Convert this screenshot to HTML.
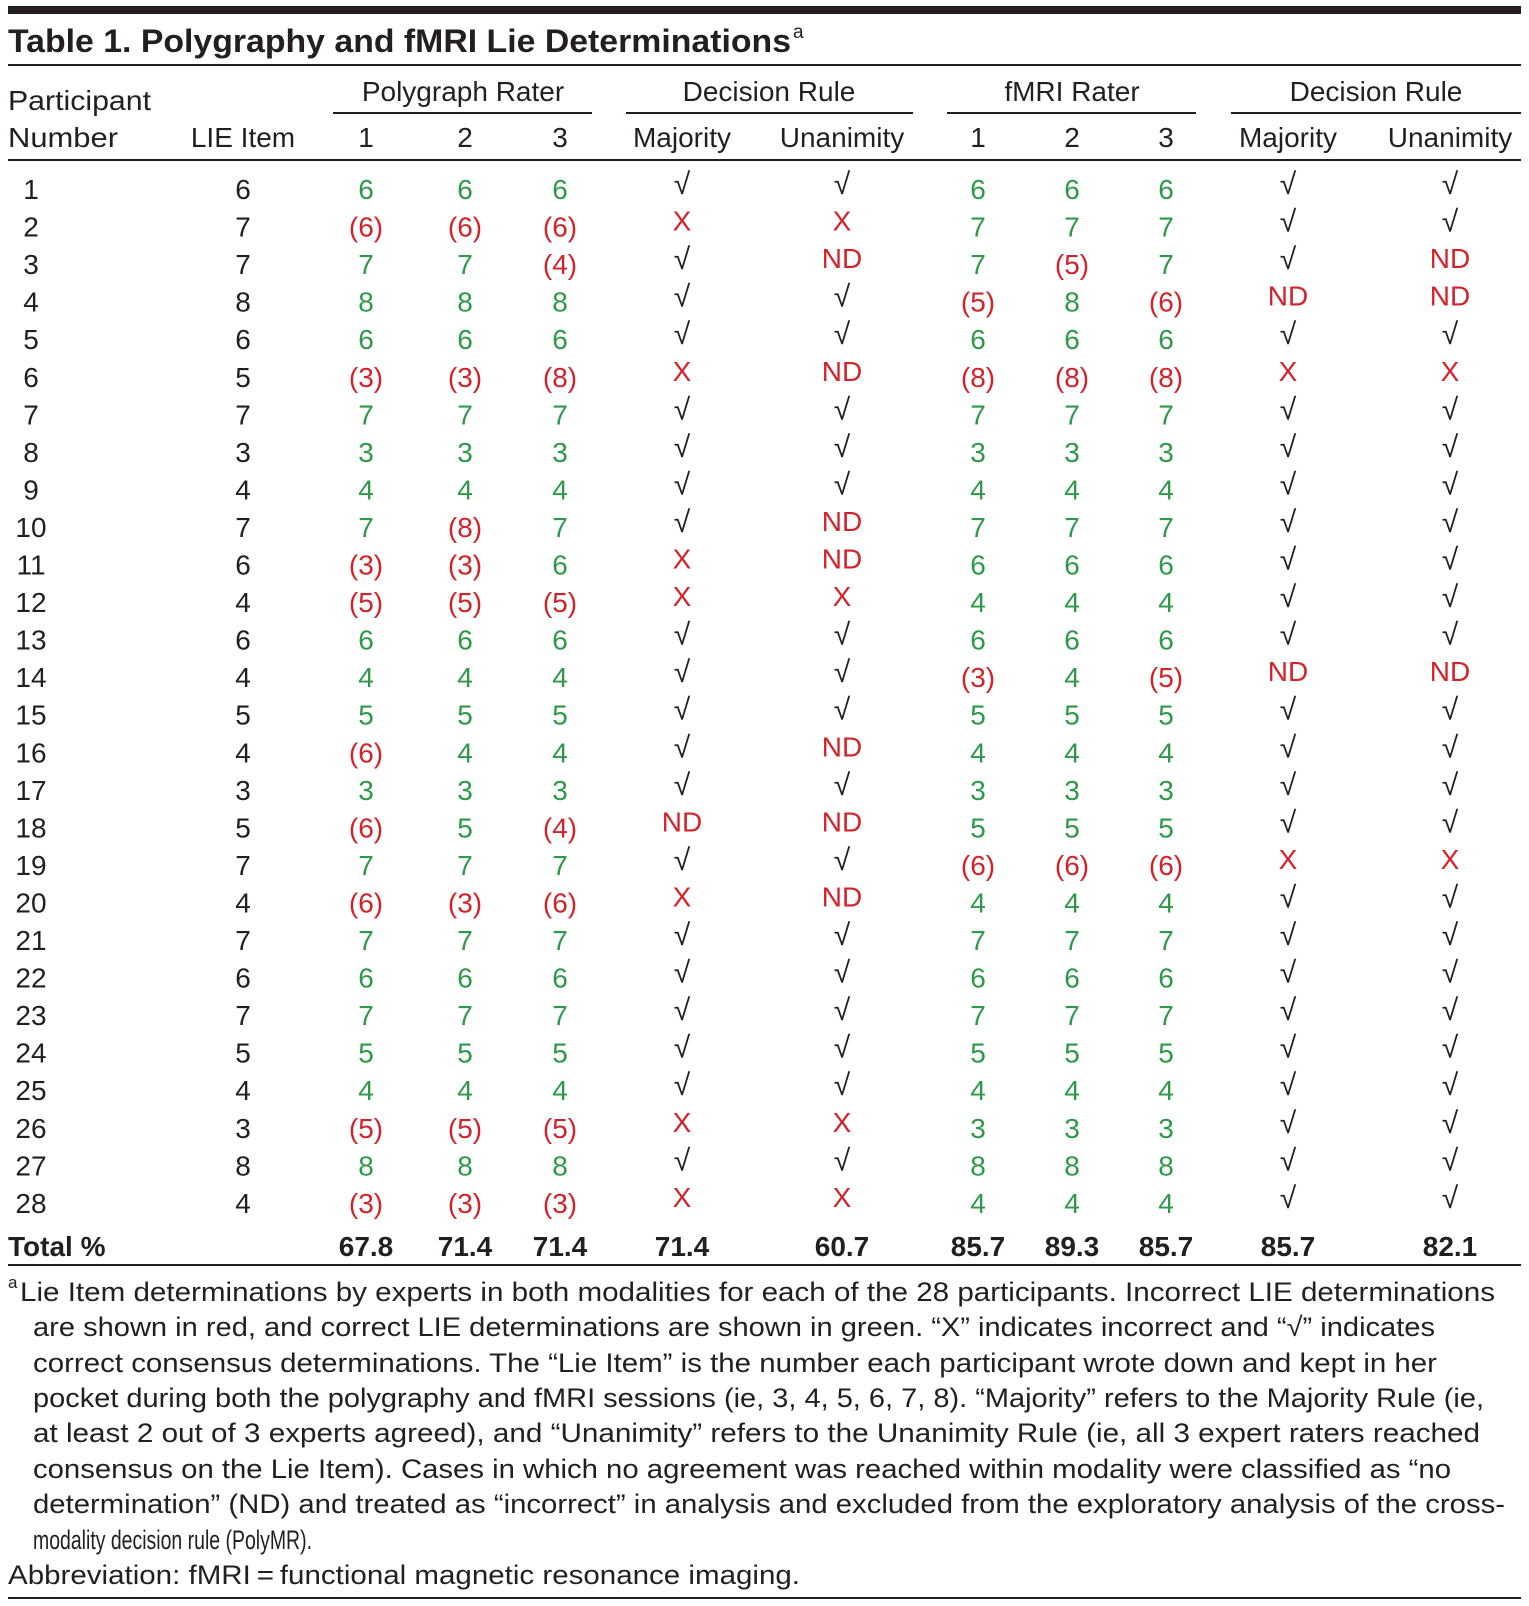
<!DOCTYPE html>
<html><head><meta charset="utf-8"><style>
body{margin:0;background:#fff}
svg{display:block;font-family:"Liberation Sans",sans-serif}
</style></head><body>
<svg id="t" width="1529" height="1606" viewBox="0 0 1529 1606" xmlns="http://www.w3.org/2000/svg">
<rect x="8" y="6" width="1513" height="8" fill="#231f20"/>
<text x="8" y="52" font-size="32" font-weight="bold" fill="#231f20" textLength="783" lengthAdjust="spacingAndGlyphs">Table 1. Polygraphy and fMRI Lie Determinations</text>
<text x="793" y="38" font-size="19" fill="#231f20">a</text>
<rect x="8" y="64" width="1513" height="2" fill="#231f20"/>
<g font-size="28" fill="#231f20" text-anchor="middle">
<text x="8" y="110" text-anchor="start" textLength="143" lengthAdjust="spacingAndGlyphs">Participant</text>
<text x="8" y="147" text-anchor="start" textLength="110" lengthAdjust="spacingAndGlyphs">Number</text>
<text x="243" y="147">LIE Item</text>
<text x="463" y="101">Polygraph Rater</text>
<text x="769" y="101">Decision Rule</text>
<text x="1072" y="101">fMRI Rater</text>
<text x="1376" y="101">Decision Rule</text>
</g>
<rect x="333" y="112" width="259" height="2" fill="#231f20"/>
<rect x="626" y="112" width="287" height="2" fill="#231f20"/>
<rect x="947" y="112" width="249" height="2" fill="#231f20"/>
<rect x="1231" y="112" width="290" height="2" fill="#231f20"/>
<rect x="8" y="159" width="1513" height="2" fill="#231f20"/>
<g id="sub" font-size="28" fill="#231f20" text-anchor="middle"></g>
<g id="body" font-size="28" text-anchor="middle"></g>
<rect x="8" y="1264" width="1513" height="2" fill="#231f20"/>
<g id="foot" font-size="27" fill="#231f20"></g>
<rect x="8" y="1597" width="1513" height="2" fill="#231f20"/>
</svg>
<script>
const lieItems=[6,7,7,8,6,5,7,3,4,7,6,4,6,4,5,4,3,5,7,4,7,6,7,5,4,3,8,4];
const polyR1=[6,6,7,8,6,3,7,3,4,7,3,5,6,4,5,6,3,6,7,6,7,6,7,5,4,5,8,3];
const polyR2=[6,6,7,8,6,3,7,3,4,8,3,5,6,4,5,4,3,5,7,3,7,6,7,5,4,5,8,3];
const polyR3=[6,6,4,8,6,8,7,3,4,7,6,5,6,4,5,4,3,4,7,6,7,6,7,5,4,5,8,3];
const polyMaj=['c','x','c','c','c','x','c','c','c','c','x','x','c','c','c','c','c','nd','c','x','c','c','c','c','c','x','c','x'];
const polyUnan=['c','x','nd','c','c','nd','c','c','c','nd','nd','x','c','c','c','nd','c','nd','c','nd','c','c','c','c','c','x','c','x'];
const fmriR1=[6,7,7,5,6,8,7,3,4,7,6,4,6,3,5,4,3,5,6,4,7,6,7,5,4,3,8,4];
const fmriR2=[6,7,5,8,6,8,7,3,4,7,6,4,6,4,5,4,3,5,6,4,7,6,7,5,4,3,8,4];
const fmriR3=[6,7,7,6,6,8,7,3,4,7,6,4,6,5,5,4,3,5,6,4,7,6,7,5,4,3,8,4];
const fmriMaj=['c','c','c','nd','c','x','c','c','c','c','c','c','c','nd','c','c','c','c','x','c','c','c','c','c','c','c','c','c'];
const fmriUnan=['c','c','nd','nd','c','x','c','c','c','c','c','c','c','nd','c','c','c','c','x','c','c','c','c','c','c','c','c','c'];
const totals=['67.8','71.4','71.4','71.4','60.7','85.7','89.3','85.7','85.7','82.1'];
const subLabels=['1','2','3','Majority','Unanimity','1','2','3','Majority','Unanimity'];
const footLines=[
"Lie Item determinations by experts in both modalities for each of the 28 participants. Incorrect LIE determinations",
"are shown in red, and correct LIE determinations are shown in green. \u201cX\u201d indicates incorrect and \u201c\u221a\u201d indicates",
"correct consensus determinations. The \u201cLie Item\u201d is the number each participant wrote down and kept in her",
"pocket during both the polygraphy and fMRI sessions (ie, 3, 4, 5, 6, 7, 8). \u201cMajority\u201d refers to the Majority Rule (ie,",
"at least 2 out of 3 experts agreed), and \u201cUnanimity\u201d refers to the Unanimity Rule (ie, all 3 expert raters reached",
"consensus on the Lie Item). Cases in which no agreement was reached within modality were classified as \u201cno",
"determination\u201d (ND) and treated as \u201cincorrect\u201d in analysis and excluded from the exploratory analysis of the cross-",
"modality decision rule (PolyMR).",
"Abbreviation: fMRI\u2009=\u2009functional magnetic resonance imaging."];
const NS='http://www.w3.org/2000/svg';
const colX=[366,465,560,682,842,978,1072,1166,1288,1450];
const GREEN='#2e9a48',RED='#d2232a',INK='#231f20';
const rowY=i=>189+i*37.55;
function txt(parent,x,y,s,fill,name){
  const e=document.createElementNS(NS,'text');
  e.setAttribute('x',x);e.setAttribute('y',y);
  if(fill)e.setAttribute('fill',fill);
  e.textContent=s;
  
  
  parent.appendChild(e);return e;
}
const sub=document.getElementById('sub');
subLabels.forEach((s,j)=>txt(sub,colX[j],147,s,INK,'subheader-'+s.toLowerCase()));
const body=document.getElementById('body');
const raters=[polyR1,polyR2,polyR3,null,null,fmriR1,fmriR2,fmriR3];
lieItems.forEach((lie,i)=>{
  const y=rowY(i)+10;
  txt(body,31,y,String(i+1),INK,'participant-number');
  txt(body,243,y,String(lie),INK,'lie-item');
  [0,1,2,5,6,7].forEach(j=>{
    const v=raters[j][i];const ok=v===lie;
    txt(body,colX[j],y,ok?String(v):'('+v+')',ok?GREEN:RED,'rater-value');
  });
  [[3,polyMaj],[4,polyUnan],[8,fmriMaj],[9,fmriUnan]].forEach(([j,arr])=>{
    const v=arr[i];
    if(v==='c'){const t=txt(body,colX[j],y-5,'\u221a',INK,'correct-check');t.setAttribute('font-size','30');}
    else txt(body,colX[j],y-6,v==='x'?'X':'ND',RED,v==='x'?'incorrect-mark':'no-determination');
  });
});
const ty=1256;
const tl=txt(body,8,ty,'Total %',INK,'total-label');tl.setAttribute('text-anchor','start');tl.setAttribute('font-weight','bold');
totals.forEach((v,j)=>{const e=txt(body,colX[j],ty,v,INK,'total-value');e.setAttribute('font-weight','bold');});
const foot=document.getElementById('foot');
const fy=[1301,1336,1372,1407,1442,1478,1513,1549,1584];
const fx=[20,33,33,33,33,33,33,33,8];
const fw=[1495,1435,1437,1484,1480,1451,1505,312,800];
const sup=txt(foot,8,1288,'a',INK,'footnote-marker');sup.setAttribute('font-size','17');
footLines.forEach((s,k)=>{
  const e=txt(foot,fx[k],fy[k],s,INK,'footnote-line');
  e.setAttribute('textLength',fw[k]-fx[k]);
  e.setAttribute('lengthAdjust','spacingAndGlyphs');
});
</script>
</body></html>
